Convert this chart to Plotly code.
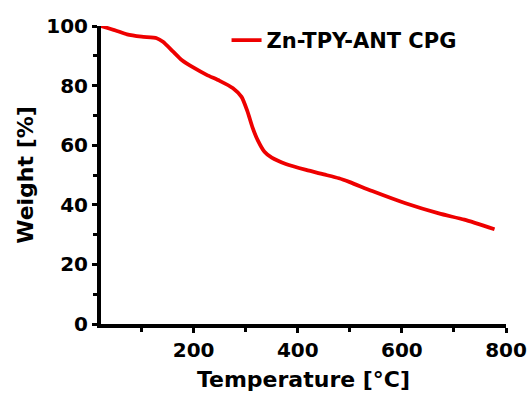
import plotly.graph_objects as go

temperature = [22, 50, 72, 100, 129, 141, 160, 177, 200, 225, 250, 275, 292, 303, 313,
               323, 336, 350, 377, 416, 450, 479, 500, 543, 607, 671, 720, 778]
weight = [100, 98.5, 97.2, 96.4, 95.9, 94.7, 91.5, 88.6, 86, 83.6, 81.6, 79.2, 76.2, 71.5, 66,
          61.7, 57.8, 55.8, 53.7, 51.7, 50.2, 48.9, 47.6, 44.6, 40.5, 37.1, 35, 31.8]
series_name = "Zn-TPY-ANT CPG"

font_family = "DejaVu Sans, sans-serif"

fig = go.Figure()
fig.add_trace(go.Scatter(
    x=temperature, y=weight, mode="lines", name=series_name,
    line=dict(color="#ee0000", width=3.8, shape="spline", smoothing=0.6),
))

axis_common = dict(
    showline=True, linewidth=4, linecolor="black",
    ticks="outside", ticklen=5, tickwidth=3, tickcolor="black",
    showgrid=False, zeroline=False,
    tickfont=dict(family=font_family, size=20, color="black", weight="bold"),
)

fig.update_layout(
    width=528, height=405,
    margin=dict(l=101, r=22, t=26, b=81, autoexpand=False),
    paper_bgcolor="white", plot_bgcolor="white",
    showlegend=True,
    legend=dict(
        x=0.31, y=1.02, xanchor="left", yanchor="top",
        font=dict(family=font_family, size=21, color="black", weight="bold"),
        bgcolor="rgba(0,0,0,0)", itemwidth=30,
    ),
    xaxis=dict(
        range=[22, 800], tick0=0, dtick=200,
        minor=dict(dtick=100, ticks="outside", ticklen=4, tickwidth=3, tickcolor="black"),
        title=dict(text="Temperature [°C]", standoff=12,
                   font=dict(family=font_family, size=22, color="black", weight="bold")),
        **axis_common,
    ),
    yaxis=dict(
        range=[0, 100], tick0=0, dtick=20,
        minor=dict(dtick=10, ticks="outside", ticklen=4, tickwidth=3, tickcolor="black"),
        title=dict(text="Weight [%]", standoff=8,
                   font=dict(family=font_family, size=22, color="black", weight="bold")),
        **axis_common,
    ),
)

fig.write_html(
    "out.html",
    config={"displayModeBar": False},
    post_script="document.body.style.margin='0';document.body.style.overflow='hidden';",
)
